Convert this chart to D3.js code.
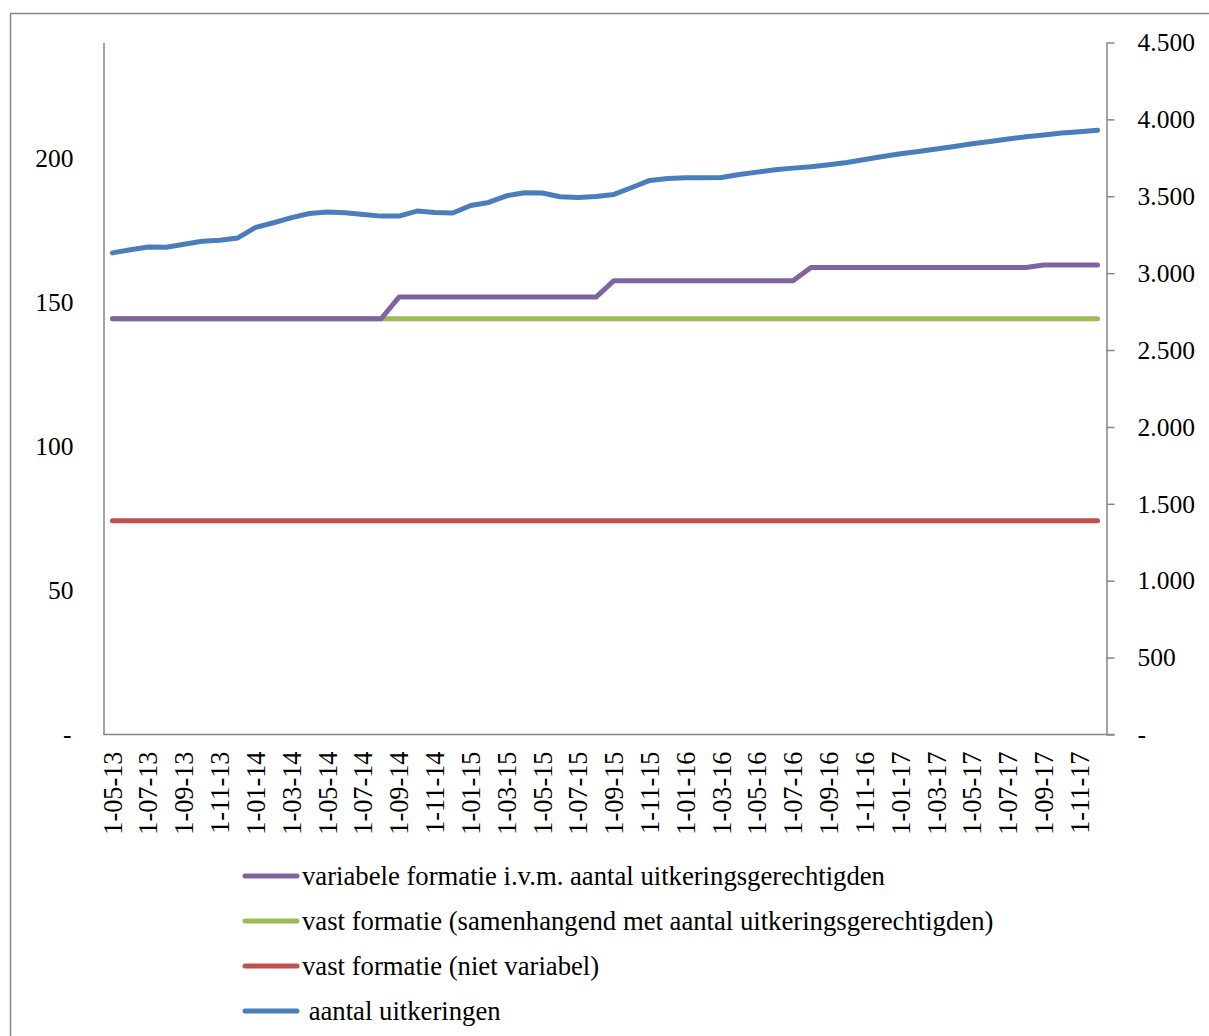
<!DOCTYPE html>
<html>
<head>
<meta charset="utf-8">
<script src="https://cdn.jsdelivr.net/npm/d3@7/dist/d3.min.js"></script>
<style>
  html, body { margin: 0; padding: 0; background: #fff; }
  svg { display: block; font-family: "Liberation Serif", "Times New Roman", serif; }
</style>
</head>
<body>
<svg id="chart" width="1209" height="1036"></svg>
<script>
// Months (first day of each month), May 2013 – December 2017
const months = [
  "1-05-13","1-06-13","1-07-13","1-08-13","1-09-13","1-10-13","1-11-13","1-12-13",
  "1-01-14","1-02-14","1-03-14","1-04-14","1-05-14","1-06-14","1-07-14","1-08-14",
  "1-09-14","1-10-14","1-11-14","1-12-14","1-01-15","1-02-15","1-03-15","1-04-15",
  "1-05-15","1-06-15","1-07-15","1-08-15","1-09-15","1-10-15","1-11-15","1-12-15",
  "1-01-16","1-02-16","1-03-16","1-04-16","1-05-16","1-06-16","1-07-16","1-08-16",
  "1-09-16","1-10-16","1-11-16","1-12-16","1-01-17","1-02-17","1-03-17","1-04-17",
  "1-05-17","1-06-17","1-07-17","1-08-17","1-09-17","1-10-17","1-11-17","1-12-17"
];

// Formatie (left axis)
const variabeleFormatie = [
  144.2,144.2,144.2,144.2,144.2,144.2,144.2,144.2,144.2,144.2,144.2,144.2,144.2,144.2,144.2,144.2,
  151.7,151.7,151.7,151.7,151.7,151.7,151.7,151.7,151.7,151.7,151.7,151.7,
  157.4,157.4,157.4,157.4,157.4,157.4,157.4,157.4,157.4,157.4,157.4,
  162.0,162.0,162.0,162.0,162.0,162.0,162.0,162.0,162.0,162.0,162.0,162.0,162.0,
  162.8,162.8,162.8,162.8
];
const vastSamenhangend = [
  144.2,144.2,144.2,144.2,144.2,144.2,144.2,144.2,144.2,144.2,144.2,144.2,144.2,144.2,
  144.2,144.2,144.2,144.2,144.2,144.2,144.2,144.2,144.2,144.2,144.2,144.2,144.2,144.2,
  144.2,144.2,144.2,144.2,144.2,144.2,144.2,144.2,144.2,144.2,144.2,144.2,144.2,144.2,
  144.2,144.2,144.2,144.2,144.2,144.2,144.2,144.2,144.2,144.2,144.2,144.2,144.2,144.2
];
const vastNietVariabel = [
  74.1,74.1,74.1,74.1,74.1,74.1,74.1,74.1,74.1,74.1,74.1,74.1,74.1,74.1,
  74.1,74.1,74.1,74.1,74.1,74.1,74.1,74.1,74.1,74.1,74.1,74.1,74.1,74.1,
  74.1,74.1,74.1,74.1,74.1,74.1,74.1,74.1,74.1,74.1,74.1,74.1,74.1,74.1,
  74.1,74.1,74.1,74.1,74.1,74.1,74.1,74.1,74.1,74.1,74.1,74.1,74.1,74.1
];

// Aantal uitkeringen (right axis)
const aantalUitkeringen = [
  3132,3152,3170,3168,3188,3207,3214,3229,3298,3328,3361,3388,3397,3393,3382,3371,
  3371,3404,3395,3391,3440,3460,3503,3523,3521,3497,3492,3499,3512,3557,3603,3616,
  3620,3620,3622,3642,3657,3672,3683,3692,3705,3720,3739,3759,3776,3791,3807,3824,
  3841,3856,3872,3887,3898,3911,3920,3929
];

const leftTicks = [0, 50, 100, 150, 200];
const rightTicks = [0, 500, 1000, 1500, 2000, 2500, 3000, 3500, 4000, 4500];

const legendLabels = [
  "variabele formatie i.v.m. aantal uitkeringsgerechtigden",
  "vast formatie (samenhangend met aantal uitkeringsgerechtigden)",
  "vast formatie (niet variabel)",
  " aantal uitkeringen"
];

const colors = {
  purple: "#8064A2",
  green: "#9BBB59",
  red: "#C0504D",
  blue: "#4A7EBB"
};
const axisColor = "#868686";

const svg = d3.select("#chart");
svg.append("rect").attr("width", 1209).attr("height", 1036).attr("fill", "#fff");

// outer chart frame
svg.append("rect")
  .attr("x", 10.5).attr("y", 13.5)
  .attr("width", 1220).attr("height", 1060)
  .attr("fill", "none").attr("stroke", axisColor).attr("stroke-width", 1.5);

const plotLeft = 103.5, plotRight = 1106.5, plotTop = 42.5, plotBottom = 734.5;

const x = d3.scaleBand().domain(months).range([plotLeft, plotRight]);
const xc = d => x(d) + x.bandwidth() / 2;
const yL = d3.scaleLinear().domain([0, 240]).range([plotBottom, plotTop]);
const yR = d3.scaleLinear().domain([0, 4500]).range([plotBottom, plotTop]);

const fontSize = 25.5;
const nlFormat = v => v === 0 ? "-" : d3.format(",")(v).replace(/,/g, ".");

// left axis (no tick marks)
const leftAxis = svg.append("g").attr("transform", `translate(${plotLeft},0)`)
  .call(d3.axisLeft(yL).tickValues(leftTicks).tickSize(0).tickPadding(30)
    .tickFormat(v => v === 0 ? "-" : String(v)));
leftAxis.select(".domain").attr("stroke", axisColor).attr("stroke-width", 1.5);
leftAxis.selectAll("text").attr("font-size", fontSize).attr("fill", "#000")
  .attr("font-family", "Liberation Serif, Times New Roman, serif");
leftAxis.selectAll(".tick").filter(d => d === 0).select("text").attr("dx", -2);

// right axis (outward tick marks)
const rightAxis = svg.append("g").attr("transform", `translate(${plotRight},0)`)
  .call(d3.axisRight(yR).tickValues(rightTicks).tickSize(8).tickSizeOuter(0).tickPadding(23)
    .tickFormat(nlFormat));
rightAxis.select(".domain").attr("stroke", axisColor).attr("stroke-width", 1.5);
rightAxis.selectAll(".tick line").attr("stroke", axisColor).attr("stroke-width", 1.5);
rightAxis.selectAll("text").attr("font-size", fontSize).attr("fill", "#000")
  .attr("font-family", "Liberation Serif, Times New Roman, serif");

// bottom axis: rotated month labels every second month
const bottomAxis = svg.append("g").attr("transform", `translate(0,${plotBottom})`)
  .call(d3.axisBottom(x).tickValues(months.filter((m, i) => i % 2 === 0))
    .tickSize(0).tickSizeOuter(0).tickPadding(0));
bottomAxis.select(".domain").attr("stroke", axisColor).attr("stroke-width", 1.5)
  .attr("d", `M${plotLeft},0H${plotRight + 8}`);
bottomAxis.selectAll("text")
  .attr("font-size", 26.3).attr("fill", "#000")
  .attr("font-family", "Liberation Serif, Times New Roman, serif")
  .attr("text-anchor", "end")
  .attr("transform", "rotate(-90)")
  .attr("x", -17).attr("y", 0).attr("dy", "0.35em");

// series lines
const lineL = d3.line().x((d, i) => xc(months[i])).y(d => yL(d));
const lineR = d3.line().x((d, i) => xc(months[i])).y(d => yR(d));

const seriesStyle = g => g.attr("fill", "none").attr("stroke-width", 5)
  .attr("stroke-linecap", "round").attr("stroke-linejoin", "round");

svg.append("path").datum(vastNietVariabel).attr("d", lineL).call(seriesStyle).attr("stroke", colors.red);
svg.append("path").datum(vastSamenhangend).attr("d", lineL).call(seriesStyle).attr("stroke", colors.green);
svg.append("path").datum(variabeleFormatie).attr("d", lineL).call(seriesStyle).attr("stroke", colors.purple);
svg.append("path").datum(aantalUitkeringen).attr("d", lineR).call(seriesStyle).attr("stroke", colors.blue);

// legend
const legendColors = [colors.purple, colors.green, colors.red, colors.blue];
const legend = svg.append("g");
legendLabels.forEach((label, i) => {
  const cy = 876 + i * 45;
  legend.append("line")
    .attr("x1", 245).attr("x2", 297).attr("y1", cy).attr("y2", cy)
    .attr("stroke", legendColors[i]).attr("stroke-width", 5).attr("stroke-linecap", "round");
  legend.append("text")
    .attr("x", 302).attr("y", cy).attr("dy", "0.33em")
    .attr("xml:space", "preserve")
    .style("white-space", "pre")
    .attr("font-size", 26.7).attr("fill", "#000")
    .text(label);
});
</script>
</body>
</html>
